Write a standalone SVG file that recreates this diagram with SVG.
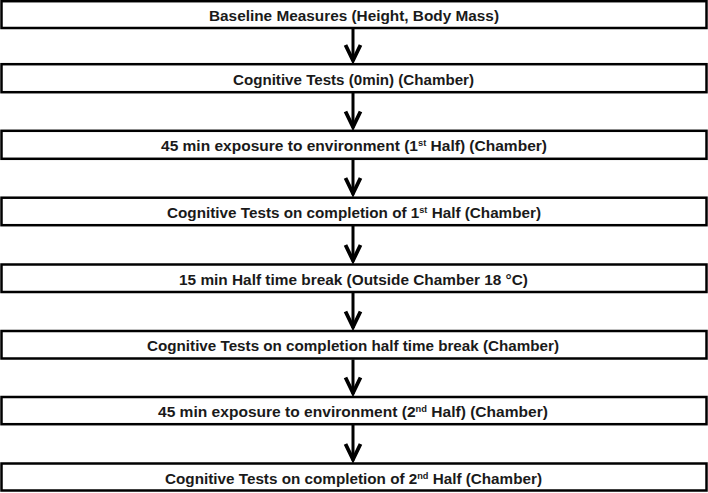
<svg xmlns="http://www.w3.org/2000/svg" width="708" height="493" viewBox="0 0 708 493">
<style>
.box{fill:#fff;stroke:#000;stroke-width:2.5}
.t{font-family:"Liberation Sans",Arial,sans-serif;font-weight:bold;font-size:15px;fill:#1a1a1a;text-anchor:middle}
.sup{font-size:9px}
.shaft{stroke:#000;stroke-width:3;fill:none}
.head{stroke:#000;stroke-width:3.8;fill:none;stroke-linejoin:miter;stroke-linecap:butt}
</style>
<rect width="708" height="493" fill="#fff"/>
<g id="connectors">
<line class="shaft" x1="353" y1="28.5" x2="353" y2="61"/>
<polyline class="head" points="345.5,45 353,60.5 360.5,45"/>
<line class="shaft" x1="353" y1="93" x2="353" y2="127.5"/>
<polyline class="head" points="345.5,111.5 353,127 360.5,111.5"/>
<line class="shaft" x1="353" y1="159.5" x2="353" y2="194.5"/>
<polyline class="head" points="345.5,178 353,193.5 360.5,178"/>
<line class="shaft" x1="353" y1="226" x2="353" y2="261.5"/>
<polyline class="head" points="345.5,245 353,260.5 360.5,245"/>
<line class="shaft" x1="353" y1="293" x2="353" y2="328"/>
<polyline class="head" points="345.5,311.5 353,327 360.5,311.5"/>
<line class="shaft" x1="353" y1="359.5" x2="353" y2="394"/>
<polyline class="head" points="345.5,377.5 353,393 360.5,377.5"/>
<line class="shaft" x1="353" y1="425" x2="353" y2="460.5"/>
<polyline class="head" points="345.5,444 353,459.5 360.5,444"/>
</g>
<g id="n1"><rect class="box" x="1.5" y="1.2" width="705" height="26.8"/><text class="t" x="354" y="21" textLength="290" lengthAdjust="spacingAndGlyphs">Baseline Measures (Height, Body Mass)</text></g>
<g id="n2"><rect class="box" x="1.5" y="64.2" width="705" height="28"/><text class="t" x="353.5" y="84.5" textLength="241" lengthAdjust="spacingAndGlyphs">Cognitive Tests (0min) (Chamber)</text></g>
<g id="n3"><rect class="box" x="1.5" y="130.8" width="705" height="28"/><text class="t" x="354" y="151" textLength="386" lengthAdjust="spacingAndGlyphs">45 min exposure to environment (1<tspan class="sup" dy="-5">st</tspan><tspan dy="5"> Half) (Chamber)</tspan></text></g>
<g id="n4"><rect class="box" x="1.5" y="197.7" width="705" height="27.5"/><text class="t" x="354" y="217.5" textLength="374" lengthAdjust="spacingAndGlyphs">Cognitive Tests on completion of 1<tspan class="sup" dy="-5">st</tspan><tspan dy="5"> Half (Chamber)</tspan></text></g>
<g id="n5"><rect class="box" x="1.5" y="264.5" width="705" height="27.5"/><text class="t" x="353.5" y="284.5" textLength="349" lengthAdjust="spacingAndGlyphs">15 min Half time break (Outside Chamber 18 °C)</text></g>
<g id="n6"><rect class="box" x="1.5" y="331" width="705" height="27.5"/><text class="t" x="353" y="351" textLength="412" lengthAdjust="spacingAndGlyphs">Cognitive Tests on completion half time break (Chamber)</text></g>
<g id="n7"><rect class="box" x="1.5" y="397" width="705" height="27.2"/><text class="t" x="353" y="417" textLength="390" lengthAdjust="spacingAndGlyphs">45 min exposure to environment (2<tspan class="sup" dy="-5">nd</tspan><tspan dy="5"> Half) (Chamber)</tspan></text></g>
<g id="n8"><rect class="box" x="1.5" y="463.5" width="705" height="27"/><text class="t" x="353.5" y="483.5" textLength="377" lengthAdjust="spacingAndGlyphs">Cognitive Tests on completion of 2<tspan class="sup" dy="-5">nd</tspan><tspan dy="5"> Half (Chamber)</tspan></text></g>
</svg>
